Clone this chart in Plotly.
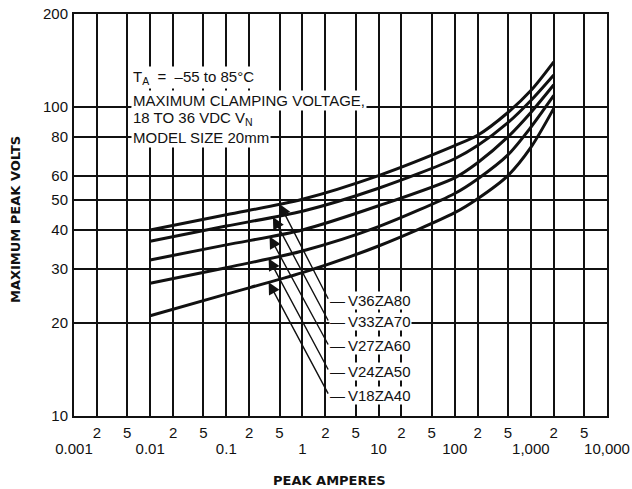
import numpy as np
import plotly.graph_objects as go

FONT = "Liberation Sans, Arial, sans-serif"
BOLD_FONT = "DejaVu Sans, sans-serif"
INK = "#111111"

# peak amperes where the curves were read
AMPS = [0.01, 0.1, 1, 10, 100, 200, 500, 1000, 2000]

# maximum clamping voltage per model
V36ZA80 = [40, 44.8, 50.3, 60, 75, 81, 96, 113, 140]
V33ZA70 = [36.8, 41.2, 46, 54.6, 68, 75, 89, 105, 127]
V27ZA60 = [32, 35.8, 40, 47.9, 59, 66, 80, 96, 118]
V24ZA50 = [26.9, 30.2, 34.2, 41, 52.5, 58.5, 70, 86, 109]
V18ZA40 = [21.1, 24.8, 29.1, 35.5, 45.5, 50.5, 60, 74, 99]

MODELS = ["V36ZA80", "V33ZA70", "V27ZA60", "V24ZA50", "V18ZA40"]
SERIES = [V36ZA80, V33ZA70, V27ZA60, V24ZA50, V18ZA40]

# tick labels
MINOR_TICKS = [0.002, 0.005, 0.02, 0.05, 0.2, 0.5, 2, 5, 20, 50, 200, 500, 2000, 5000]
MINOR_TEXT = ["2", "5"] * 7
DECADES = [0.001, 0.01, 0.1, 1, 10, 100, 1000, 10000]
DECADE_TEXT = ["0.001", "0.01", "0.1", "1", "10", "100", "1,000", "10,000"]
Y_TICKS = [10, 20, 30, 40, 50, 60, 80, 100, 200]

# pointer placement (amps where the arrow hits its curve, volts of the label row)
POINTER_AMPS = [0.5, 0.41, 0.37, 0.36, 0.36]
LABEL_VOLTS = [23.7, 20.15, 16.85, 13.98, 11.69]
LABEL_AMPS = 2.23

W, H = 632, 489
ML, MT = 74, 14
PW, PH = 533, 402

fig = go.Figure()

for name, volts in zip(MODELS, SERIES):
    fig.add_trace(go.Scatter(x=AMPS, y=volts, name=name, mode="lines",
                             line=dict(color=INK, width=3, shape="spline", smoothing=0.8),
                             showlegend=False, hoverinfo="x+y+name"))

# invisible trace so the decade axis is drawn
fig.add_trace(go.Scatter(x=[0.001, 10000], y=[10, 10], xaxis="x2", mode="markers",
                         marker=dict(opacity=0), showlegend=False, hoverinfo="skip"))

# pointers from the labels to the curves
for name, volts, tip_a, lab_v in zip(MODELS, SERIES, POINTER_AMPS, LABEL_VOLTS):
    tip_v = 10 ** np.interp(np.log10(tip_a), np.log10(AMPS), np.log10(volts))
    fig.add_annotation(x=np.log10(tip_a), y=np.log10(tip_v), xref="x", yref="y",
                       ax=np.log10(LABEL_AMPS), ay=np.log10(lab_v), axref="x", ayref="y",
                       text="", showarrow=True, arrowhead=2, arrowsize=1.7,
                       arrowwidth=1.4, arrowcolor=INK, standoff=0)
    fig.add_annotation(x=np.log10(LABEL_AMPS), y=np.log10(lab_v), xref="x", yref="y",
                       text="\u2014\u2009" + name, showarrow=False, xanchor="left",
                       yanchor="middle", bgcolor="white", borderpad=0,
                       font=dict(family=FONT, size=15, color=INK))


def px(x):
    return (x - ML) / PW


def py(y):
    return (MT + PH - y) / PH


# white block behind the conditions text
fig.add_shape(type="rect", xref="paper", yref="paper", x0=px(127), x1=px(272),
              y0=py(146), y1=py(66), fillcolor="white", line_width=0, layer="between")
fig.add_shape(type="rect", xref="paper", yref="paper", x0=px(127), x1=px(392),
              y0=py(112), y1=py(92), fillcolor="white", line_width=0, layer="between")

notes = [
    ("T<sub>A</sub>\u00a0 = \u00a0\u201355 to 85\u00b0C", 77),
    ("MAXIMUM CLAMPING VOLTAGE,", 100),
    ("18 TO 36 VDC V<sub>N</sub>", 118),
    ("MODEL SIZE 20mm", 137),
]
for txt, y in notes:
    fig.add_annotation(x=px(131), y=py(y), xref="paper", yref="paper",
                       text=txt, showarrow=False, xanchor="left", yanchor="middle",
                       bgcolor="white", borderpad=1,
                       font=dict(family=FONT, size=15, color=INK))

fig.add_annotation(x=px(329), y=py(480), xref="paper", yref="paper",
                   text="<b>PEAK AMPERES</b>", showarrow=False,
                   xanchor="center", yanchor="middle",
                   font=dict(family=BOLD_FONT, size=13, color=INK))
fig.add_annotation(x=px(15), y=py(220), xref="paper", yref="paper",
                   text="<b>MAXIMUM PEAK VOLTS</b>", showarrow=False, textangle=-90,
                   xanchor="center", yanchor="middle",
                   font=dict(family=BOLD_FONT, size=13, color=INK))

fig.update_layout(
    width=W, height=H,
    margin=dict(l=ML, r=W - ML - PW, t=MT, b=H - MT - PH, autoexpand=False),
    paper_bgcolor="white", plot_bgcolor="white",
    font=dict(family=FONT, size=15, color=INK),
    xaxis=dict(type="log", range=[-3, 4], automargin=False,
               tickvals=DECADES + MINOR_TICKS,
               ticktext=[""] * len(DECADES) + MINOR_TEXT,
               ticks="", ticklabelstandoff=2, ticklabeloverflow="allow",
               showgrid=True, gridcolor=INK, gridwidth=1.5,
               showline=True, linecolor=INK, linewidth=2, mirror=True,
               zeroline=False),
    xaxis2=dict(type="log", range=[-3, 4], overlaying="x", side="bottom", anchor="y",
                automargin=False, tickvals=DECADES, ticktext=DECADE_TEXT, ticks="",
                ticklabelstandoff=22, ticklabeloverflow="allow",
                showgrid=False, zeroline=False),
    yaxis=dict(type="log", range=[1, np.log10(200) + 1e-6], automargin=False,
               tickvals=Y_TICKS, ticktext=[str(v) for v in Y_TICKS],
               ticks="", ticklabelstandoff=1, ticklabeloverflow="allow",
               showgrid=True, gridcolor=INK, gridwidth=1.5,
               showline=True, linecolor=INK, linewidth=2, mirror=True,
               zeroline=False),
)

# drop the default page margin so the figure fills the window
fig.write_html("out.html", config={"displayModeBar": False},
               post_script="document.body.style.margin='0';")
